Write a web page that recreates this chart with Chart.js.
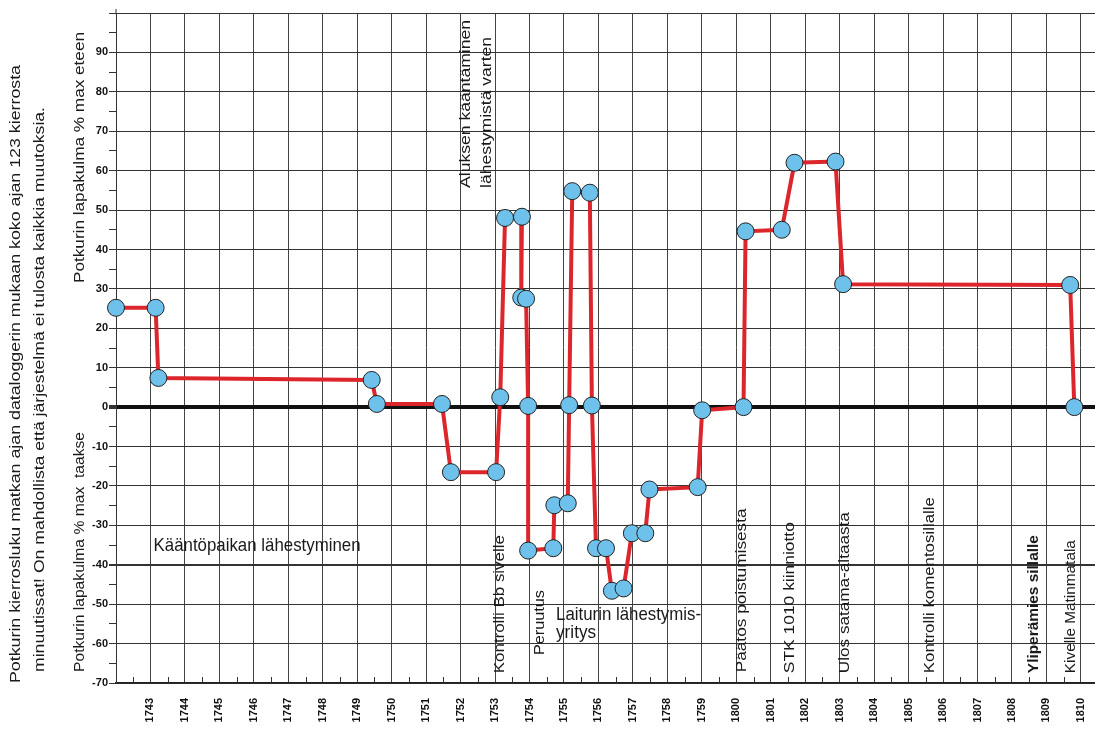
<!DOCTYPE html>
<html>
<head>
<meta charset="utf-8">
<script src="https://cdn.jsdelivr.net/npm/chart.js@4/dist/chart.umd.min.js"></script>
<style>
  html, body { margin: 0; padding: 0; background: #fff; overflow: hidden; }
  #wrap { width: 1095px; height: 733px; position: relative; }
</style>
</head>
<body>
<div id="wrap"><canvas id="chart"></canvas></div>
<script>
// aika minuutteina klo 17:42 jälkeen, ja lapakulma %
const minutes = [0, 1.15, 1.23, 7.42, 7.57, 9.46, 9.72, 11.03, 11.15, 11.29, 11.78, 11.76, 11.9, 11.96, 11.96,
  12.69, 12.72, 13.11, 13.15, 13.24, 13.75, 13.81, 13.93, 14.22, 14.39, 14.73, 14.97, 15.36, 15.48,
  16.88, 17.01, 18.21, 18.27, 19.32, 19.69, 20.88, 21.1, 27.69, 27.81];
const bladeAngle = [25.2, 25.2, 7.4, 6.9, 0.8, 0.8, -16.5, -16.5, 2.5, 48, 48.3, 27.8, 27.5, 0.3, -36.4,
  -35.8, -24.9, -24.4, 0.5, 54.8, 54.4, 0.4, -35.8, -35.8, -46.6, -46, -32, -32, -20.9,
  -20.3, -0.8, 0, 44.6, 45, 62, 62.3, 31.2, 31, 0];
const tickLabels = ['1743', '1744', '1745', '1746', '1747', '1748', '1749', '1750', '1751', '1752', '1753',
  '1754', '1755', '1756', '1757', '1758', '1759', '1800', '1801', '1802', '1803', '1804', '1805',
  '1806', '1807', '1808', '1809', '1810'];

const FONT = '"Liberation Sans", Arial, sans-serif';

// tekstit: x,y datayksiköissä, len = tekstin pituus pikseleinä
const notes = [
  { text: 'Aluksen kääntäminen', x: 10.16, y: 55.6, len: 168, rot: true },
  { text: 'lähestymistä varten', x: 10.77, y: 55.6, len: 151, rot: true },
  { text: 'Kontrolli Bb sivelle', x: 11.15, y: -67.5, len: 138, rot: true },
  { text: 'Peruutus', x: 12.31, y: -62.9, len: 65, rot: true },
  { text: 'Päätös poistumisesta', x: 18.15, y: -67.3, len: 164, rot: true },
  { text: 'STK 1010 kiinniotto', x: 19.55, y: -67.5, len: 151, rot: true },
  { text: 'Ulos satama-altaasta', x: 21.14, y: -67.5, len: 161, rot: true },
  { text: 'Kontrolli komentosillalle', x: 23.62, y: -67.5, len: 176, rot: true },
  { text: 'Yliperämies sillalle', x: 26.64, y: -67.5, len: 138, rot: true, bold: true },
  { text: 'Kivelle Matinmatala', x: 27.72, y: -67.5, len: 133, rot: true },
  { text: 'Kääntöpaikan lähestyminen', x: 1.09, y: -36.5, len: 207 },
  { text: 'Laiturin lähestymis-', x: 12.77, y: -54.1, len: 145 },
  { text: 'yritys', x: 12.77, y: -58.6, len: 40 }
];

function fitText(ctx, text, x, y, len, size, rot, bold, baseline) {
  ctx.save();
  ctx.font = (bold ? 'bold ' : '') + size + 'px ' + FONT;
  const w = ctx.measureText(text).width;
  ctx.translate(x, y);
  if (rot) ctx.rotate(-Math.PI / 2);
  ctx.scale(len / w, rot ? 1 : 1.2);
  ctx.textBaseline = baseline || (rot ? 'middle' : 'alphabetic');
  ctx.textAlign = 'left';
  ctx.fillStyle = '#1a1a1a';
  ctx.fillText(text, 0, 0);
  ctx.restore();
}

const extras = {
  id: 'extras',
  afterDatasetsDraw(chart) {
    const ctx = chart.ctx;
    const xs = chart.scales.x, ys = chart.scales.y;
    const area = chart.chartArea;
    // pienet väliviivat x-akselilla
    ctx.save();
    ctx.strokeStyle = '#333';
    ctx.lineWidth = 1;
    for (let i = 0; i < 28; i++) {
      const px = Math.round(xs.getPixelForValue(i + 0.5)) + 0.5;
      ctx.beginPath();
      ctx.moveTo(px, area.bottom - 6);
      ctx.lineTo(px, area.bottom);
      ctx.stroke();
    }
    ctx.beginPath();
    ctx.moveTo(area.left, area.top - 4);
    ctx.lineTo(area.left, area.top);
    ctx.stroke();
    ctx.restore();

    notes.forEach((n) => {
      const px = xs.getPixelForValue(n.x);
      const py = ys.getPixelForValue(n.y);
      fitText(ctx, n.text, px, py, n.len, n.rot ? 15 : 16, n.rot, n.bold);
    });

    // akselien otsikot
    fitText(ctx, 'Potkurin lapakulma % max eteen', 80, 283, 251, 15, true);
    fitText(ctx, 'Potkurin lapakulma % max  taakse', 80, 672, 240, 15, true);
    fitText(ctx, 'Potkurin kierrosluku matkan ajan dataloggerin mukaan koko ajan 123 kierrosta', 16, 683, 618, 15, true);
    fitText(ctx, 'minuutissat! On mahdollista että järjestelmä ei tulosta kaikkia muutoksia.', 40, 672, 565, 15, true);
  }
};

new Chart(document.getElementById('chart'), {
  type: 'line',
  data: {
    datasets: [{
      data: minutes.map((m, i) => ({ x: m, y: bladeAngle[i] })),
      borderColor: '#dc262c',
      borderWidth: 4,
      pointRadius: 8.5,
      pointBackgroundColor: '#6ec1ea',
      pointBorderColor: '#222',
      pointBorderWidth: 1,
      tension: 0,
      clip: false
    }]
  },
  options: {
    responsive: true,
    maintainAspectRatio: false,
    animation: false,
    layout: { autoPadding: false, padding: { top: 13, right: 0, left: 0, bottom: 0 } },
    plugins: { legend: { display: false }, tooltip: { enabled: false } },
    scales: {
      x: {
        type: 'linear',
        min: 0,
        max: 28.41,
        afterFit: (scale) => {
          scale.height = 50;
          scale.paddingLeft = 0;
          scale.paddingRight = 0;
        },
        afterBuildTicks: (scale) => {
          scale.ticks = scale.ticks.filter((t) => Number.isInteger(t.value));
        },
        ticks: {
          stepSize: 1,
          autoSkip: false,
          minRotation: 90,
          maxRotation: 90,
          padding: 15,
          color: '#111',
          font: { family: FONT, size: 11, weight: 'bold' },
          callback: (v) => (v >= 1 && v <= 28 ? tickLabels[v - 1] : '')
        },
        grid: { color: '#444', lineWidth: 1, drawTicks: false },
        border: { display: true, color: '#222', width: 1.5 }
      },
      y: {
        min: -70,
        max: 100,
        afterFit: (scale) => { scale.width = 116; },
        afterBuildTicks: (scale) => {
          scale.ticks = scale.ticks.filter((t) => t.value % 5 === 0);
        },
        ticks: {
          stepSize: 5,
          padding: 1,
          color: '#111',
          font: { family: FONT, size: 11, weight: 'bold' },
          callback: (v) => (v % 10 === 0 && v < 100 ? String(v) : '')
        },
        grid: {
          tickLength: 7,
          color: (c) => {
            const v = c.tick.value;
            if (v === 0) return '#111';
            return v % 10 === 0 ? '#333' : 'rgba(0,0,0,0)';
          },
          lineWidth: (c) => (c.tick.value === 0 ? 4 : c.tick.value === -40 ? 2 : 1),
          tickColor: '#333',
          tickWidth: (c) => (c.tick.value === 0 ? 4 : c.tick.value === -40 ? 2 : 1)
        },
        border: { display: true, color: '#333', width: 1 }
      }
    }
  },
  plugins: [extras]
});
</script>
</body>
</html>
